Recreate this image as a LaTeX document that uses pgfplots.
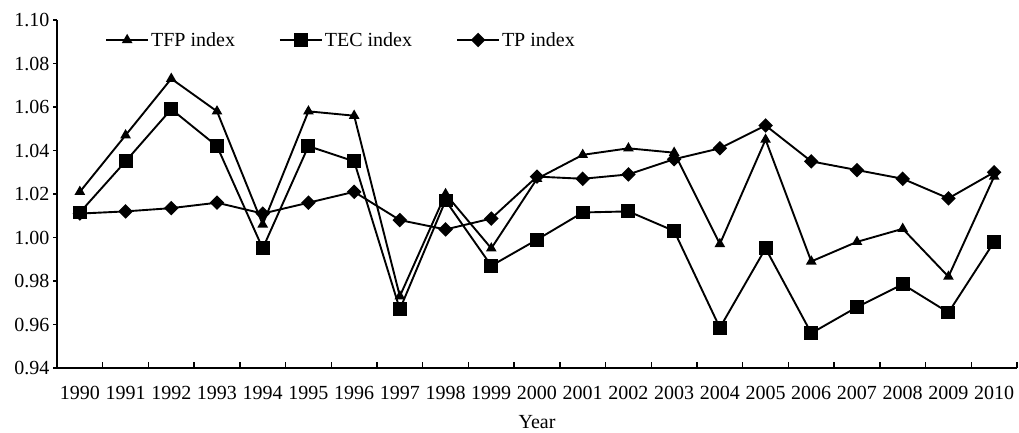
\documentclass[border=0pt]{standalone}
\usepackage{pgfplots}
\pgfplotsset{compat=1.18}
\usepackage{fontspec}
\setmainfont{Liberation Serif}
\begin{document}
\begin{tikzpicture}
\begin{axis}[
  scale only axis, width=960pt, height=348pt,
  font=\fontsize{20}{23}\selectfont,
  xmin=1989.5, xmax=2010.5, ymin=0.94, ymax=1.10,
  axis x line*=bottom, axis y line*=left,
  axis line style={line width=1.6pt},
  xtick={1990,...,2010},
  minor xtick={1989.5,1990.5,...,2010.5},
  ytick={0.94,0.96,...,1.101},
  /pgf/number format/assume math mode=true,
  xticklabel style={/pgf/number format/1000 sep={}},
  yticklabel style={/pgf/number format/fixed,/pgf/number format/fixed zerofill,/pgf/number format/precision=2},
  x tick style={draw=none},
  minor x tick style={draw=black,line width=1.4pt},
  minor tick length=6pt,
  y tick style={line width=1.4pt, black},
  ytick align=outside, major tick length=4pt,
  every x tick label/.append style={yshift=-15pt},
  xlabel={Year},
  xlabel style={yshift=-9pt},
  legend columns=3,
  legend style={draw=none, fill=none, inner sep=0pt, at={(0.05,0.9425)}, anchor=west, font=\fontsize{20}{23}\selectfont},
  /tikz/every even column/.append style={column sep=42pt},
  legend image code/.code={\draw[mark repeat=2,mark phase=2] plot coordinates {(0pt,0pt)(21pt,0pt)(42pt,0pt)};},
  every axis plot/.append style={line width=1.9pt, black},
]
\addplot[mark=triangle*, mark size=4.3pt] coordinates {
(1990,1.021)(1991,1.047)(1992,1.073)(1993,1.058)(1994,1.006)(1995,1.058)(1996,1.056)
(1997,0.973)(1998,1.020)(1999,0.995)(2000,1.027)(2001,1.038)(2002,1.041)(2003,1.039)
(2004,0.997)(2005,1.045)(2006,0.989)(2007,0.998)(2008,1.004)(2009,0.982)(2010,1.028)};
\addlegendentry{TFP index}
\addplot[mark=square*, mark size=6pt] coordinates {
(1990,1.0115)(1991,1.035)(1992,1.059)(1993,1.042)(1994,0.995)(1995,1.042)(1996,1.035)
(1997,0.967)(1998,1.017)(1999,0.987)(2000,0.999)(2001,1.0115)(2002,1.012)(2003,1.003)
(2004,0.9585)(2005,0.995)(2006,0.956)(2007,0.968)(2008,0.9785)(2009,0.9655)(2010,0.998)};
\addlegendentry{TEC index}
\addplot[mark=square*, mark size=4.2pt, mark options={rotate=45}] coordinates {
(1990,1.011)(1991,1.012)(1992,1.0135)(1993,1.016)(1994,1.011)(1995,1.016)(1996,1.021)
(1997,1.008)(1998,1.0037)(1999,1.0087)(2000,1.028)(2001,1.027)(2002,1.029)(2003,1.036)
(2004,1.041)(2005,1.0515)(2006,1.035)(2007,1.031)(2008,1.027)(2009,1.018)(2010,1.030)};
\addlegendentry{TP index}
\end{axis}
\path (current axis.south west) ++(-57pt,-59pt) rectangle ([shift={(2pt,20pt)}]current axis.north east);
\end{tikzpicture}
\end{document}
